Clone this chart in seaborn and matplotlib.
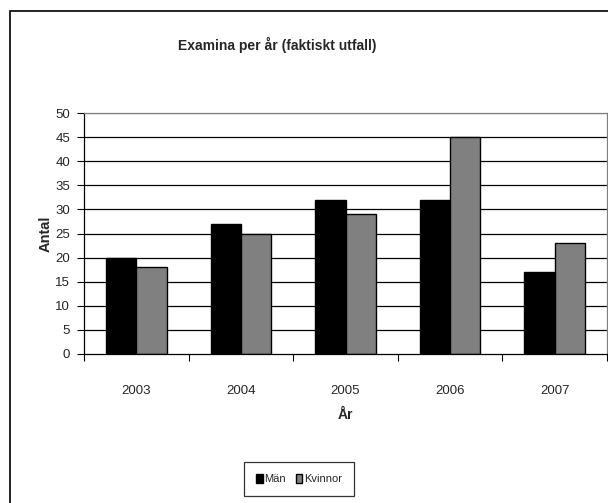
import matplotlib
matplotlib.use("Agg")
import matplotlib.pyplot as plt
import matplotlib.patches as mpatches
import seaborn as sns
import pandas as pd
from matplotlib import font_manager

years = ["2003", "2004", "2005", "2006", "2007"]
man = [20, 27, 32, 32, 17]
kvinnor = [18, 25, 29, 45, 23]
series_names = ["Män", "Kvinnor"]
y_ticks = [0, 5, 10, 15, 20, 25, 30, 35, 40, 45, 50]

df = pd.DataFrame({
    "År": years * 2,
    "Antal": man + kvinnor,
    "Kön": [series_names[0]] * len(years) + [series_names[1]] * len(years),
})

sns.set_style("white")
avail = {f.name for f in font_manager.fontManager.ttflist}
narrow = "Liberation Sans Narrow" if "Liberation Sans Narrow" in avail else "Liberation Sans"
plt.rcParams["font.family"] = [narrow, "DejaVu Sans"]

fig = plt.figure(figsize=(6.08, 5.03), dpi=100)
ax = fig.add_axes([84 / 608, 1 - 354 / 503, (607 - 84) / 608, (354 - 113) / 503])

sns.barplot(data=df, x="År", y="Antal", hue="Kön", order=years, hue_order=series_names,
            palette=["#000000", "#808080"], width=0.58, edgecolor="black", linewidth=1.0,
            saturation=1, ax=ax, legend=False)

ax.set_ylim(0, 50)
ax.set_xlim(-0.5, 4.5)
ax.set_yticks(y_ticks)
ax.set_yticklabels([str(v) for v in y_ticks], fontsize=9.5)
for v in y_ticks[1:]:
    ax.axhline(v, color="#808080" if v == 50 else "black", lw=0.9, zorder=0)

ax.set_xticks(range(len(years)))
ax.set_xticklabels(years, fontsize=9.5)
ax.tick_params(axis="x", which="major", bottom=False, length=0, pad=22)
ax.set_xticks([i - 0.5 for i in range(len(years) + 1)], minor=True)
ax.tick_params(axis="x", which="minor", bottom=True, length=5, width=0.8, direction="out", color="black")
ax.tick_params(axis="y", which="major", left=True, length=5, width=0.8, direction="out", color="black", pad=5)

for s in ["left", "bottom"]:
    ax.spines[s].set_color("black")
    ax.spines[s].set_linewidth(0.9)
ax.spines["top"].set_color("#808080")
ax.spines["right"].set_color("#808080")
ax.spines["top"].set_linewidth(0.9)
ax.spines["right"].set_linewidth(0.9)

ax.set_xlabel("År", fontsize=10, fontweight="bold", labelpad=8)
ax.set_ylabel("Antal", fontsize=10.5, fontweight="bold", family=["Liberation Sans", "DejaVu Sans"], labelpad=2)

fig.text(0.456, 1 - 45 / 503, "Examina per år (faktiskt utfall)", ha="center", va="center",
         fontsize=10, fontweight="bold")

# chart frame
fig.patches.append(mpatches.Rectangle((10 / 608, -0.1), 1.2, 1 - 11 / 503 + 0.1, transform=fig.transFigure,
                                      fill=False, edgecolor="black", lw=1.2))

handles = [mpatches.Patch(facecolor="#000000", edgecolor="black", label=series_names[0]),
           mpatches.Patch(facecolor="#808080", edgecolor="black", label=series_names[1])]
leg = fig.legend(handles=handles, loc="center", bbox_to_anchor=(299 / 608, 1 - 479 / 503), ncol=2,
                 fontsize=8, frameon=True, fancybox=False, handlelength=0.6, handleheight=0.9,
                 handletextpad=0.15, columnspacing=0.9, borderpad=1.1, borderaxespad=0)
leg.get_frame().set_edgecolor("black")
leg.get_frame().set_linewidth(0.9)

fig.savefig("out.png", dpi=100, facecolor="white")
